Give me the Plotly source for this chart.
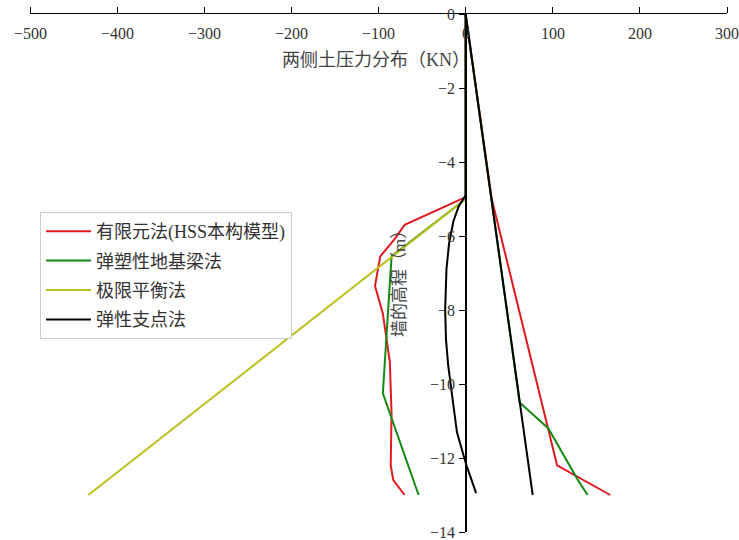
import plotly.graph_objects as go

# ---- data ----
# 有限元法(HSS本构模型)
fem_right_x = [0, 30, 105, 166]
fem_right_y = [0, -5.0, -12.2, -13.0]
fem_left_x = [0, 0, -70, -82, -98, -104, -95, -87, -85, -86, -83, -70]
fem_left_y = [0, -4.95, -5.7, -6.1, -6.55, -7.35, -8.1, -9.4, -10.8, -12.2, -12.6, -13.0]

# 弹塑性地基梁法
epb_right_x = [0, 62, 95, 129, 140]
epb_right_y = [0, -10.5, -11.2, -12.6, -13.0]
epb_left_x = [0, 0, -85, -89, -95, -54]
epb_left_y = [0, -5.0, -6.55, -8.0, -10.25, -13.0]

# 极限平衡法
leq_x = [0, 0, -433]
leq_y = [0, -5.0, -13.0]

# 弹性支点法
esp_right_x = [0, 77]
esp_right_y = [0, -13.0]
esp_left_x = [0, 0, -8, -14, -19, -22, -23.5, -22.5, -20, -15, -10, -4, 1, 12]
esp_left_y = [0, -4.9, -5.2, -5.6, -6.2, -6.9, -8.0, -8.8, -9.5, -10.4, -11.3, -11.8, -12.2, -12.95]

x_ticks = [-500, -400, -300, -200, -100, 0, 100, 200, 300]
y_ticks = [0, -2, -4, -6, -8, -10, -12, -14]

names = ["有限元法(HSS本构模型)", "弹塑性地基梁法", "极限平衡法", "弹性支点法"]
colors = ["#e4191f", "#148a14", "#bcbf1c", "#000000"]

series = [
    [(fem_right_x, fem_right_y), (fem_left_x, fem_left_y)],
    [(epb_right_x, epb_right_y), (epb_left_x, epb_left_y)],
    [(leq_x, leq_y)],
    [(esp_right_x, esp_right_y), (esp_left_x, esp_left_y)],
]

fig = go.Figure()
for i, (name, color, parts) in enumerate(zip(names, colors, series)):
    for j, (xs, ys) in enumerate(parts):
        fig.add_trace(go.Scatter(
            x=xs, y=ys, mode="lines", name=name,
            line=dict(color=color, width=2),
            legendgroup=f"g{i}", showlegend=(j == 0),
        ))

font_family = "Liberation Serif, Noto Sans CJK SC"
W, H = 739, 540
ML, MR, MT, MB = 30, 12, 14, 8
PW, PH = W - ML - MR, H - MT - MB

fig.update_layout(
    width=W, height=H,
    margin=dict(l=ML, r=MR, t=MT, b=MB),
    paper_bgcolor="white", plot_bgcolor="white",
    font=dict(family=font_family, size=14, color="#222222"),
    showlegend=True,
    legend=dict(
        x=(40 - ML) / PW, y=1 - (212 - MT) / PH, xanchor="left", yanchor="top",
        bgcolor="rgba(255,255,255,0.85)", bordercolor="#cccccc", borderwidth=1,
        font=dict(family=font_family, size=18, color="#333333"),
        tracegroupgap=3, traceorder="grouped", itemwidth=45,
    ),
    xaxis=dict(
        range=[-500, 300], side="top", anchor="y",
        tickvals=x_ticks, ticks="outside", ticklen=6, tickwidth=1, tickcolor="black",
        showticklabels=False,
        showline=True, linecolor="black", linewidth=1.3,
        showgrid=False, zeroline=False,
    ),
    yaxis=dict(
        range=[-14, 0], anchor="free", position=0.625,
        tickvals=y_ticks, ticks="outside", ticklen=6, tickwidth=1, tickcolor="black",
        showticklabels=False,
        showline=True, linecolor="black", linewidth=1.5,
        showgrid=False, zeroline=False,
    ),
)

tick_font = dict(family=font_family, size=16, color="#333333")
for v in x_ticks:
    fig.add_annotation(
        text=f"{v}".replace("-", "\u2212"), xref="x", yref="paper",
        x=v, y=1 - (33 - MT) / PH, showarrow=False,
        xanchor="center", yanchor="middle", font=tick_font,
    )
for v in y_ticks:
    fig.add_annotation(
        text=f"{v}".replace("-", "\u2212"), xref="x", yref="y",
        x=0, y=v, xshift=-9, showarrow=False,
        xanchor="right", yanchor="middle", font=tick_font,
    )

fig.add_annotation(
    text="两侧土压力分布（KN）", xref="paper", yref="paper",
    x=(376 - ML) / PW, y=1 - (60 - MT) / PH, showarrow=False,
    xanchor="center", yanchor="middle",
    font=dict(family=font_family, size=18, color="#444444"),
)
fig.add_annotation(
    text="墙的高程（m）", xref="paper", yref="paper",
    x=(399 - ML) / PW, y=1 - (280 - MT) / PH, showarrow=False,
    xanchor="center", yanchor="middle", textangle=-90,
    font=dict(family=font_family, size=17, color="#444444"),
)

fig.write_html("out.html")
